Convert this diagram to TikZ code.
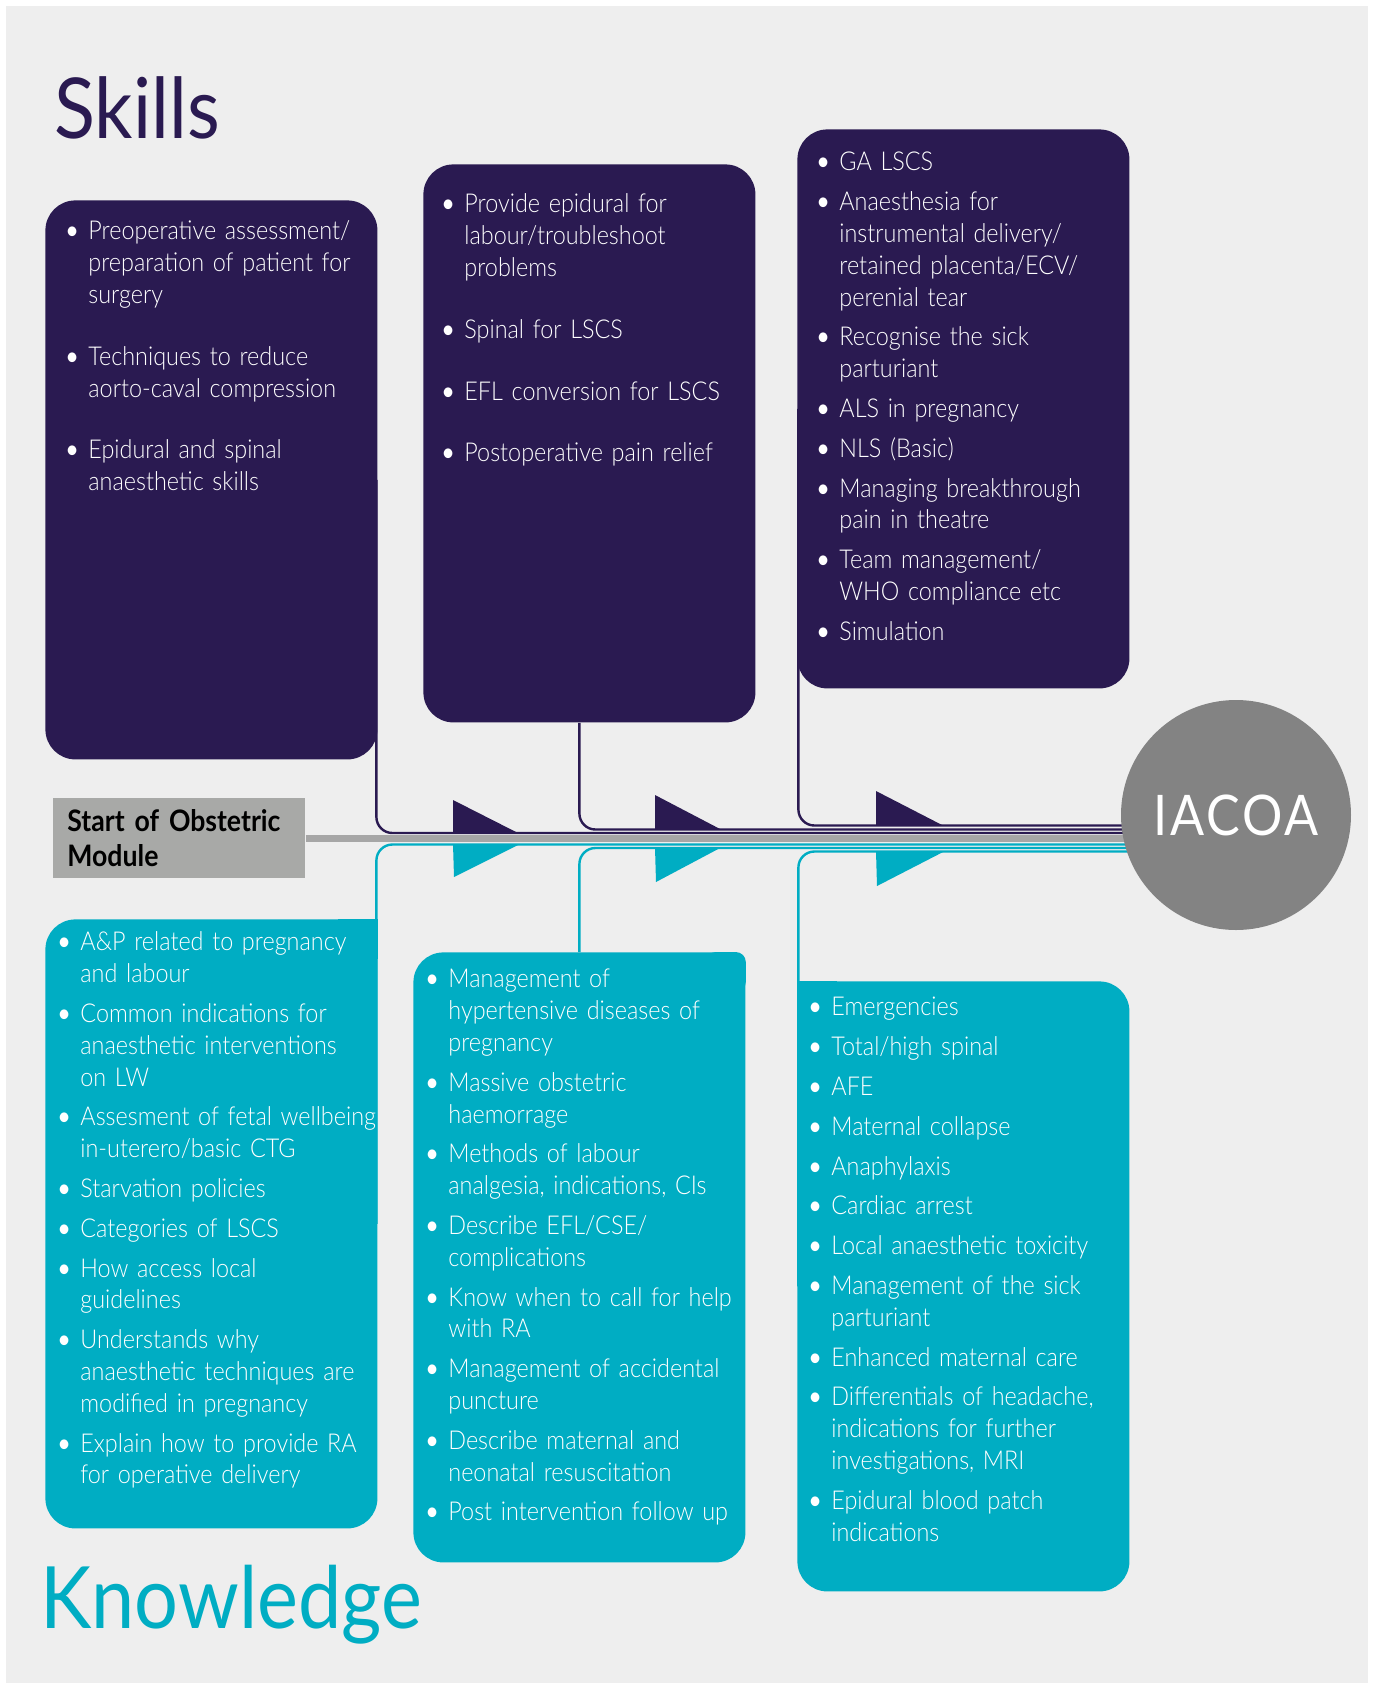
\documentclass[tikz,border=0pt]{standalone}
\usepackage{fontspec}
\setmainfont{Lato}[UprightFont={* Light}, BoldFont={* Bold}, FakeStretch=0.9, WordSpace=0.8]
\newfontfamily\headfont{Lato}[FakeStretch=0.9]
\usepackage{enumitem}

\definecolor{pageGrey}{HTML}{EEEEEE}
\definecolor{skillPurple}{HTML}{2A1A51}
\definecolor{knowTeal}{HTML}{00ADC3}
\definecolor{startGrey}{HTML}{A8A9A7}
\definecolor{axisGrey}{HTML}{A6A6A6}
\definecolor{goalGrey}{HTML}{838383}

\setlist[itemize]{label={\headfont\textbullet}, align=left, leftmargin=11.5pt, labelwidth=11.5pt, labelsep=0pt, topsep=0pt, partopsep=0pt, parsep=0pt, itemsep=4pt}

\pgfdeclarelayer{background}
\pgfsetlayers{background,main}

\begin{document}
\begin{tikzpicture}[x=0.5pt, y=-0.5pt,
  box/.style={inner sep=0pt, anchor=north west, rounded corners=15pt, minimum width=166pt},
  skillbox/.style={box, fill=skillPurple},
  knowbox/.style={box, fill=knowTeal},
  itemtext/.style={text=white, text width=190pt, align=left, anchor=base west, inner sep=0pt, font=\fontsize{13pt}{15.9pt}\selectfont},
  link/.style={line width=1.2pt, rounded corners=8pt},
  title/.style={anchor=base west, inner sep=0pt}]

\useasboundingbox (0,0) rectangle (1373,1683);

% Titel
\node[title, text=skillPurple, font=\headfont\fontsize{42pt}{42pt}\selectfont] (skills) at (54,138) {Skills};
\node[title, text=knowTeal, font=\headfont\fontsize{43pt}{43pt}\selectfont] (knowledge) at (40,1628) {Knowledge};

% Skills-Kaesten
\node[skillbox, minimum height=279.5pt] (boxA) at (45,200) {};
\node[skillbox, minimum height=279pt] (boxB) at (423,164) {};
\node[skillbox, minimum height=279.5pt] (boxC) at (797,129) {};

% Knowledge-Kaesten (mit eckigen Ecken am Anschluss)
\node[knowbox, minimum height=304.5pt] (boxD) at (45,919) {};
\fill[knowTeal] (boxD.north east) rectangle ++(-40,40);
\node[knowbox, minimum height=305pt] (boxE) at (413,952) {};
\fill[knowTeal, rounded corners=5pt] (boxE.north east) rectangle ++(-40,40);
\node[knowbox, minimum height=305pt] (boxF) at (797,981) {};
\fill[knowTeal] (boxF.north west) rectangle ++(40,40);

% Start und Ziel
\node[fill=startGrey, anchor=north west, minimum width=125.5pt, minimum height=40pt, text width=112pt, inner xsep=7pt, inner ysep=0pt, align=left, font=\bfseries\fontsize{14.8pt}{17.5pt}\selectfont] (start) at (53,798) {Start of Obstetric\\Module};
\node[circle, fill=goalGrey, minimum size=115pt, inner sep=0pt, text=white, font=\headfont\fontsize{28pt}{28pt}\selectfont\addfontfeature{LetterSpace=5}] (iacoa) at (1236,815) {IACOA};

% Enden der Linien (hinter dem Kreis)
\coordinate (endSA) at (1236,833);
\coordinate (endSB) at (1236,829.5);
\coordinate (endSC) at (1236,825.5);
\coordinate (endKA) at (1236,844.5);
\coordinate (endKB) at (1236,848);
\coordinate (endKC) at (1236,851.5);

\begin{pgfonlayer}{background}
% Hintergrund
\fill[pageGrey] (6,6) rectangle (1368,1683);
% Hauptachse
\draw[axisGrey, line width=3.5pt] (start.east) -- (iacoa.center |- start.east);
% Verbindungen
\draw[link, skillPurple] ([xshift=-0.7pt]boxA.east) |- (endSA);
\draw[link, skillPurple] (boxB.south -| boxE.north) |- (endSB);
\draw[link, skillPurple] ([xshift=0.7pt]boxC.west) |- (endSC);
\draw[link, knowTeal] ([xshift=-0.7pt]boxD.east) |- (endKA);
\draw[link, knowTeal] (boxE.north) |- (endKB);
\draw[link, knowTeal] ([xshift=0.7pt]boxF.west) |- (endKC);
\end{pgfonlayer}

% Pfeilspitzen
\fill[skillPurple] (453,800) -- (453,833.5) -- (519,833.5) -- cycle;
\fill[knowTeal] (453,844) -- (520,844) -- (454,877) -- cycle;
\fill[skillPurple] (655,795) -- (655,829.5) -- (721,829.5) -- cycle;
\fill[knowTeal] (655,847.5) -- (721,847.5) -- (656,882) -- cycle;
\fill[skillPurple] (876,791) -- (876,825.5) -- (943,825.5) -- cycle;
\fill[knowTeal] (876,851) -- (945,851) -- (877,886) -- cycle;

% Texte Skills
\node[itemtext] (listA) at (65,208) {\begin{itemize}[itemsep=15pt]
\item Preoperative assessment/\newline preparation of patient for\newline surgery
\item Techniques to reduce\newline aorto-caval compression
\item Epidural and spinal\newline anaesthetic skills
\end{itemize}};
\node[itemtext] (listB) at (441,181) {\begin{itemize}[itemsep=15pt]
\item Provide epidural for\newline labour/troubleshoot\newline problems
\item Spinal for LSCS
\item EFL conversion for LSCS
\item Postoperative pain relief
\end{itemize}};
\node[itemtext] (listC) at (816,139) {\begin{itemize}
\item GA LSCS
\item Anaesthesia for\newline instrumental delivery/\newline retained placenta/ECV/\newline perenial tear
\item Recognise the sick\newline parturiant
\item ALS in pregnancy
\item NLS (Basic)
\item Managing breakthrough\newline pain in theatre
\item Team management/\newline WHO compliance etc
\item Simulation
\end{itemize}};

% Texte Knowledge
\node[itemtext] (listD) at (57,919) {\begin{itemize}
\item A\&P related to pregnancy\newline and labour
\item Common indications for\newline anaesthetic interventions\newline on LW
\item Assesment of fetal wellbeing\newline in-uterero/basic CTG
\item Starvation policies
\item Categories of LSCS
\item How access local\newline guidelines
\item Understands why\newline anaesthetic techniques are\newline modified in pregnancy
\item Explain how to provide RA\newline for operative delivery
\end{itemize}};
\node[itemtext] (listE) at (425,956) {\begin{itemize}
\item Management of\newline hypertensive diseases of\newline pregnancy
\item Massive obstetric\newline haemorrage
\item Methods of labour\newline analgesia, indications, CIs
\item Describe EFL/CSE/\newline complications
\item Know when to call for help\newline with RA
\item Management of accidental\newline puncture
\item Describe maternal and\newline neonatal resuscitation
\item Post intervention follow up
\end{itemize}};
\node[itemtext] (listF) at (808,984) {\begin{itemize}
\item Emergencies
\item Total/high spinal
\item AFE
\item Maternal collapse
\item Anaphylaxis
\item Cardiac arrest
\item Local anaesthetic toxicity
\item Management of the sick\newline parturiant
\item Enhanced maternal care
\item Differentials of headache,\newline indications for further\newline investigations, MRI
\item Epidural blood patch\newline indications
\end{itemize}};

\end{tikzpicture}
\end{document}
